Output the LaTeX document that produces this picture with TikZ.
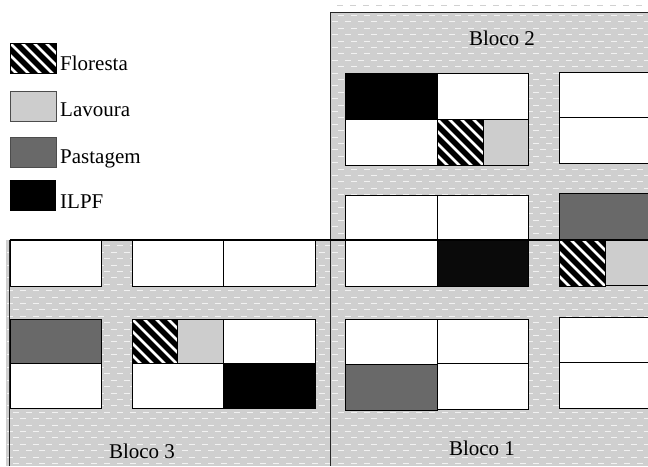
\documentclass[tikz,border=0pt]{standalone}
\usepackage{fontspec}
\setmainfont{Liberation Serif}
\definecolor{bggray}{HTML}{CFCFCF}
\definecolor{lav}{HTML}{CDCDCD}
\definecolor{past}{HTML}{696969}
\definecolor{ilpf}{HTML}{000000}
\tikzset{
  cell/.style={draw=black, line width=0.8pt},
  dashline/.style={draw=white!95!black, line width=1.1pt, dash pattern=on 6pt off 7pt},
  border/.style={draw=black!85, line width=1pt},
  lbl/.style={font=\fontsize{21}{25}\selectfont, inner sep=0pt},
}
\newcommand{\hatchbox}[4]{%
  \begin{scope}
    \clip (#1,#2) rectangle (#3,#4);
    \fill[black] (#1,#2) rectangle (#3,#4);
    \foreach \k in {-72,-60,...,72} {\draw[white, line width=2.6pt] ({#1+\k},#2) -- ++(90,90);}
  \end{scope}
  \draw[cell] (#1,#2) rectangle (#3,#4);
}
\begin{document}
\begin{tikzpicture}[x=1pt,y=-1pt]
\clip (0,0) rectangle (648,466);
\fill[white] (0,0) rectangle (648,466);
% background regions
\fill[bggray] (330,12) rectangle (648,466);
\fill[bggray] (6,240) rectangle (330,466);
\begin{scope}
  \clip (330,12) rectangle (648,466) (6,240) rectangle (330,466);
  \foreach \i in {0,...,71} {
    \pgfmathsetmacro{\yy}{15.5+6.4*\i}
    \pgfmathsetmacro{\xs}{mod(\i,2)*6.5}
    \draw[dashline] ({\xs-13},\yy) -- (660,\yy);
  }
\end{scope}
\draw[draw=black!18, line width=1pt, dash pattern=on 6pt off 7pt] (337,5) -- (648,5);
% borders
\draw[border] (330,12) -- (648,12);
\draw[border] (330,12) -- (330,466);
\draw[border] (9.5,240) -- (9.5,466);

% legend
\hatchbox{10}{43}{56}{73}
\node[lbl, anchor=base west] (lflo) at (60,70) {Floresta};
\draw[draw=black!70, line width=0.8pt, fill=lav] (10,91) rectangle (56,121);
\node[lbl, anchor=base west] (llav) at (60,116) {Lavoura};
\draw[draw=black!70, line width=0.8pt, fill=past] (10,137) rectangle (56,167);
\node[lbl, anchor=base west] (lpas) at (60,163) {Pastagem};
\fill[ilpf] (10,180) rectangle (56,211);
\node[lbl, anchor=base west] (lilp) at (60,208) {ILPF};

% Bloco 2, group A
\draw[cell, fill=ilpf] (345,73) rectangle (437,119);
\draw[cell, fill=white] (437,73) rectangle (528,119);
\draw[cell, fill=white] (345,119) rectangle (437,165);
\hatchbox{437}{119}{483}{165}
\draw[cell, fill=lav] (483,119) rectangle (528,165);
% group B
\draw[cell, fill=white] (559,72) rectangle (660,117);
\draw[cell, fill=white] (559,117) rectangle (660,163);
% group C
\draw[cell, fill=white] (345,195) rectangle (437,240);
\draw[cell, fill=white] (437,195) rectangle (528,240);
\draw[cell, fill=white] (345,240) rectangle (437,286);
\draw[cell, fill=black!96] (437,240) rectangle (528,286);
% group D
\draw[cell, fill=past] (559,193) rectangle (660,240);
\hatchbox{559}{240}{605}{286}
\draw[cell, fill=lav] (605,240) rectangle (660,285);
% Bloco 1, group E
\draw[cell, fill=white] (345,319) rectangle (437,364);
\draw[cell, fill=past] (345,364) rectangle (437,410);
\draw[cell, fill=white] (437,319) rectangle (528,363);
\draw[cell, fill=white] (437,363) rectangle (528,409);
% group F
\draw[cell, fill=white] (559,317) rectangle (660,362);
\draw[cell, fill=white] (559,362) rectangle (660,408);
% Bloco 3
\draw[cell, fill=white] (10,240) rectangle (101,286);
\draw[cell, fill=white] (132,240) rectangle (223,286);
\draw[cell, fill=white] (223,240) rectangle (315,286);
\draw[cell, fill=past] (10,319) rectangle (101,363);
\draw[cell, fill=white] (10,363) rectangle (101,408);
\hatchbox{132}{319}{177}{364}
\draw[cell, fill=lav] (177,319) rectangle (223,363);
\draw[cell, fill=white] (223,319) rectangle (315,363);
\draw[cell, fill=white] (132,363) rectangle (223,408);
\draw[cell, fill=ilpf] (223,363) rectangle (315,408);

% dividing line
\draw[line width=1.8pt] (9.5,240) -- (648,240);

% block labels
\node[lbl, anchor=base] (b2) at (502,45.5) {Bloco 2};
\node[lbl, anchor=base] (b3) at (142,458) {Bloco 3};
\node[lbl, anchor=base] (b1) at (482,455) {Bloco 1};
\end{tikzpicture}
\end{document}
